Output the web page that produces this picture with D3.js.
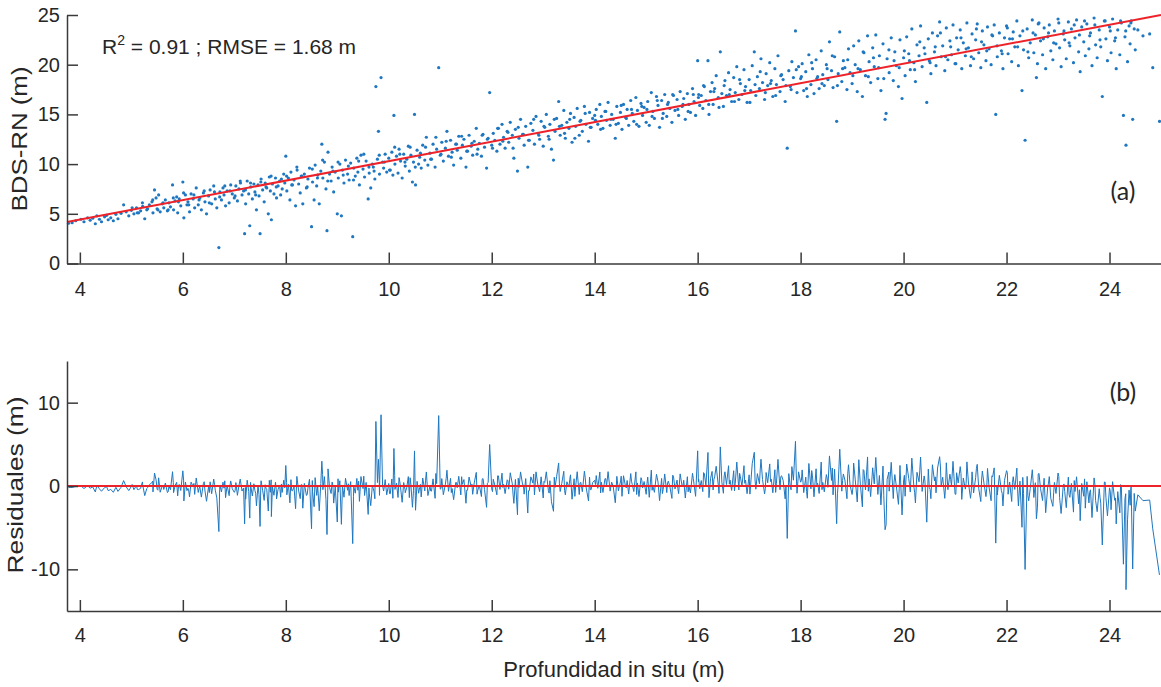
<!DOCTYPE html>
<html>
<head>
<meta charset="utf-8">
<script src="https://cdn.jsdelivr.net/npm/d3@7"></script>
<style>
body{margin:0;background:#fff;}
svg text{font-family:"Liberation Sans",Arial,sans-serif;fill:#262626;}
.axis path,.axis line{stroke:#3a3a3a;stroke-width:1.5;}
.axis text{font-size:20px;fill:#262626;}
</style>
</head>
<body>
<svg id="chart" width="1161" height="687"></svg>
<script>
// axis ticks
const xTicks=[4,6,8,10,12,14,16,18,20,22,24];
const yTicksTop=[0,5,10,15,20,25];
const yTicksBottom=[-10,0,10];

// fitted line (BDS-RN vs in situ)
const fitSlope=0.98, fitIntercept=0.5;

// [profundidad in situ, BDS-RN]
const band04=[[3.78,4.05],[3.85,4.1],[3.92,4.3],[4.02,4.45],[4.08,4.2],[4.15,4.6],[4.2,4.35],[4.25,4.55],[4.3,4.0],[4.33,4.8],[4.38,4.45],[4.42,4.2],[4.48,4.7],[4.52,4.85],[4.55,4.4],[4.6,4.6],[4.65,4.3],[4.7,4.95],[4.74,4.5],[4.8,5.05],[4.85,5.9],[4.9,5.2],[4.95,4.8],[5.0,5.35],[5.05,5.0],[5.1,5.6],[5.14,5.1],[5.18,5.3],[5.22,5.75],[5.26,4.5],[5.3,5.4],[5.35,5.9],[5.4,6.2],[5.42,5.1],[5.45,7.4],[5.48,6.6],[5.5,5.5],[5.53,6.9],[5.56,5.2],[5.6,6.0],[5.63,5.6],[5.66,6.4],[5.7,5.3],[5.73,6.1],[5.76,5.7],[5.8,7.9],[5.82,5.4],[5.85,6.3],[5.88,6.7],[5.9,5.1],[5.93,6.5],[5.96,5.8]];
const band06=[[6.0,8.2],[6.02,4.6],[6.05,6.9],[6.08,5.9],[6.1,6.2],[6.13,5.2],[6.16,7.0],[6.2,6.5],[6.23,5.6],[6.26,7.6],[6.3,5.9],[6.33,6.6],[6.36,5.4],[6.4,7.1],[6.43,6.2],[6.46,5.0],[6.5,6.8],[6.53,7.4],[6.56,6.0],[6.6,7.8],[6.63,6.5],[6.66,5.6],[6.7,1.6],[6.72,7.2],[6.75,6.4],[6.78,7.6],[6.8,6.9],[6.83,5.8],[6.86,7.3],[6.9,6.1],[6.93,7.9],[6.96,7.0],[7.0,6.6],[7.03,7.8],[7.06,6.3],[7.09,7.5],[7.12,8.1],[7.15,6.9],[7.18,7.3],[7.2,3.0],[7.22,6.0],[7.25,8.3],[7.28,7.0],[7.3,3.8],[7.32,7.7],[7.35,6.5],[7.38,8.0],[7.4,7.2],[7.43,5.4],[7.46,7.9],[7.48,6.8],[7.5,3.0],[7.52,8.5],[7.55,7.4],[7.58,6.2],[7.6,8.1],[7.63,7.6],[7.66,5.0],[7.68,8.7],[7.7,7.3],[7.72,4.4],[7.74,8.0],[7.77,7.0],[7.8,8.6],[7.82,6.6],[7.85,7.8],[7.88,8.3],[7.9,6.9],[7.93,7.5],[7.96,9.0],[7.98,8.1]];
const band08=[[8.0,10.8],[8.02,7.3],[8.05,8.6],[8.08,6.4],[8.1,9.2],[8.13,7.9],[8.16,8.4],[8.19,5.8],[8.22,9.4],[8.25,8.0],[8.28,7.1],[8.3,8.8],[8.33,6.0],[8.36,9.0],[8.4,7.6],[8.43,8.5],[8.46,9.6],[8.5,3.7],[8.52,8.2],[8.55,6.4],[8.57,9.9],[8.6,7.8],[8.62,8.9],[8.65,6.0],[8.68,9.3],[8.7,12.0],[8.72,8.6],[8.75,10.2],[8.78,7.5],[8.8,3.3],[8.82,11.2],[8.85,9.0],[8.88,8.3],[8.9,9.7],[8.93,7.2],[8.96,9.2],[9.0,5.0],[9.02,8.6],[9.05,10.0],[9.08,4.8],[9.1,9.4],[9.13,8.1],[9.16,10.4],[9.2,9.0],[9.23,8.4],[9.26,10.1],[9.3,2.7],[9.32,9.6],[9.35,8.8],[9.38,10.6],[9.4,9.2],[9.43,7.9],[9.46,10.9],[9.5,9.5],[9.53,8.7],[9.56,10.3],[9.6,6.5],[9.62,9.1],[9.65,7.6],[9.68,10.0],[9.7,9.7],[9.73,8.5],[9.75,17.8],[9.78,10.5],[9.8,13.3],[9.82,9.0],[9.85,18.7],[9.88,10.2],[9.9,9.6],[9.93,11.0],[9.96,9.2]];
const band10=[[10.0,10.6],[10.03,9.4],[10.06,11.2],[10.08,8.9],[10.1,14.9],[10.12,10.0],[10.15,10.8],[10.18,9.1],[10.2,11.5],[10.23,10.3],[10.26,8.6],[10.29,11.0],[10.32,9.8],[10.35,10.5],[10.38,11.8],[10.4,9.3],[10.43,10.9],[10.46,8.2],[10.48,10.2],[10.5,15.0],[10.52,7.9],[10.55,11.4],[10.58,10.0],[10.6,10.7],[10.63,9.6],[10.66,11.9],[10.7,10.4],[10.73,12.7],[10.76,9.9],[10.8,11.1],[10.83,10.5],[10.86,12.0],[10.9,9.7],[10.93,11.5],[10.97,19.7],[11.0,10.9],[11.03,12.2],[11.06,10.3],[11.1,11.6],[11.13,13.3],[11.16,10.8],[11.2,12.4],[11.23,11.2],[11.26,9.9],[11.3,12.0],[11.33,11.4],[11.36,12.8],[11.4,10.6],[11.43,11.9],[11.46,12.5],[11.5,9.7],[11.53,11.3],[11.56,12.9],[11.6,11.8],[11.63,10.9],[11.66,12.3],[11.7,13.6],[11.73,11.5],[11.76,12.1],[11.8,10.8],[11.83,13.0],[11.86,11.7],[11.9,9.6],[11.93,12.6],[11.96,17.2]];
const band12=[[12.0,11.9],[12.03,13.1],[12.06,12.4],[12.1,11.3],[12.13,13.6],[12.16,12.0],[12.2,14.0],[12.23,12.7],[12.26,11.6],[12.3,13.3],[12.33,12.2],[12.36,14.2],[12.4,12.9],[12.43,10.6],[12.46,13.5],[12.5,9.3],[12.53,12.6],[12.56,14.5],[12.6,13.0],[12.63,11.9],[12.66,13.8],[12.7,9.7],[12.73,12.4],[12.76,14.1],[12.8,13.4],[12.83,12.0],[12.86,14.8],[12.9,13.1],[12.93,12.5],[12.96,14.3],[13.0,11.8],[13.03,13.7],[13.06,15.0],[13.1,12.8],[13.13,14.0],[13.16,11.5],[13.2,10.4],[13.23,13.3],[13.26,14.6],[13.3,16.3],[13.33,12.9],[13.36,13.9],[13.4,15.4],[13.43,12.6],[13.46,14.2],[13.5,13.6],[13.53,15.1],[13.56,12.2],[13.6,14.7],[13.63,13.8],[13.66,15.6],[13.7,12.9],[13.73,14.4],[13.76,13.3],[13.8,15.8],[13.83,14.0],[13.88,12.3],[13.9,15.2],[13.93,13.7],[13.96,14.6]];
const band14=[[14.0,14.9],[14.03,15.5],[14.06,14.0],[14.1,16.0],[14.13,14.8],[14.16,13.6],[14.2,15.3],[14.23,14.4],[14.26,16.2],[14.3,13.9],[14.33,15.0],[14.36,14.5],[14.4,12.6],[14.43,15.8],[14.46,14.1],[14.5,15.2],[14.53,13.5],[14.56,16.0],[14.6,14.7],[14.63,15.5],[14.66,13.9],[14.7,16.4],[14.73,15.1],[14.76,14.3],[14.8,16.7],[14.83,15.4],[14.86,13.8],[14.9,16.1],[14.93,14.9],[14.96,15.7],[15.0,14.2],[15.03,16.3],[15.06,13.9],[15.1,17.2],[15.13,15.3],[15.16,14.6],[15.2,16.8],[15.23,15.9],[15.26,13.7],[15.3,16.4],[15.33,15.1],[15.36,17.0],[15.4,14.8],[15.43,16.2],[15.46,15.6],[15.5,14.2],[15.53,16.9],[15.56,15.4],[15.6,16.5],[15.63,14.9],[15.66,17.3],[15.7,15.8],[15.73,16.6],[15.76,14.5],[15.8,17.1],[15.83,16.0],[15.86,15.2],[15.9,17.6],[15.93,16.3],[15.96,14.9]];
const band16=[[16.0,20.4],[16.02,17.0],[16.04,15.9],[16.07,16.9],[16.1,15.6],[16.13,17.8],[16.16,16.4],[16.2,20.4],[16.22,15.0],[16.25,17.3],[16.28,18.2],[16.3,16.0],[16.33,17.6],[16.36,18.9],[16.4,16.7],[16.44,21.3],[16.47,17.1],[16.5,15.8],[16.53,18.4],[16.56,16.9],[16.6,19.2],[16.63,17.5],[16.66,16.3],[16.7,18.7],[16.73,17.2],[16.76,19.8],[16.8,16.5],[16.83,18.1],[16.86,17.0],[16.9,19.5],[16.93,17.8],[16.96,16.2],[17.0,18.5],[17.03,17.4],[17.06,19.9],[17.1,21.3],[17.13,16.9],[17.16,18.8],[17.2,17.6],[17.23,20.6],[17.26,18.2],[17.3,16.5],[17.33,19.1],[17.36,17.9],[17.4,20.2],[17.43,18.4],[17.46,16.8],[17.5,19.6],[17.53,18.0],[17.56,20.9],[17.6,17.3],[17.63,19.0],[17.66,18.5],[17.7,16.3],[17.74,11.6],[17.77,19.4],[17.8,17.8],[17.83,20.3],[17.86,18.7],[17.9,23.4],[17.93,17.2],[17.96,19.8]];
const band18=[[18.0,18.6],[18.03,20.1],[18.06,17.4],[18.1,19.3],[18.13,16.8],[18.16,21.0],[18.2,18.0],[18.23,19.6],[18.26,17.1],[18.3,20.5],[18.33,18.8],[18.36,17.6],[18.4,21.4],[18.43,19.0],[18.46,17.9],[18.5,20.0],[18.53,18.5],[18.56,22.3],[18.6,19.4],[18.63,17.7],[18.66,20.8],[18.7,14.3],[18.73,19.1],[18.76,23.3],[18.8,18.3],[18.83,20.4],[18.86,19.7],[18.9,17.5],[18.93,21.6],[18.96,19.2],[19.0,18.1],[19.03,21.9],[19.06,20.0],[19.1,17.3],[19.13,22.4],[19.16,19.5],[19.2,16.8],[19.23,21.2],[19.26,18.9],[19.3,22.9],[19.33,20.3],[19.36,18.2],[19.4,21.7],[19.43,19.8],[19.46,23.0],[19.5,18.6],[19.53,20.9],[19.56,17.4],[19.6,22.1],[19.64,14.5],[19.66,15.1],[19.68,20.6],[19.72,19.2],[19.76,22.7],[19.8,18.4],[19.83,21.3],[19.86,19.9],[19.9,17.8],[19.93,22.5],[19.97,16.6]];
const band20=[[20.0,20.7],[20.03,18.9],[20.06,22.8],[20.1,21.1],[20.13,19.5],[20.16,23.6],[20.2,20.2],[20.23,18.3],[20.26,22.0],[20.3,20.9],[20.33,23.9],[20.36,19.8],[20.4,21.7],[20.45,16.2],[20.48,22.6],[20.5,20.4],[20.53,19.1],[20.56,23.2],[20.6,21.3],[20.63,19.9],[20.66,22.9],[20.7,24.3],[20.73,20.8],[20.76,21.9],[20.8,19.4],[20.83,23.7],[20.86,20.5],[20.9,22.4],[20.93,21.0],[20.96,24.0],[21.0,20.1],[21.03,22.7],[21.06,21.5],[21.1,23.5],[21.13,19.6],[21.16,22.2],[21.2,20.9],[21.23,24.2],[21.26,21.7],[21.3,19.9],[21.33,23.1],[21.36,20.6],[21.4,22.5],[21.43,24.1],[21.46,21.2],[21.5,19.7],[21.53,23.4],[21.56,22.0],[21.6,20.4],[21.63,23.8],[21.66,21.6],[21.7,20.0],[21.73,22.9],[21.76,24.0],[21.79,15.0],[21.82,20.8],[21.86,23.2],[21.9,21.4],[21.93,19.6],[21.96,22.7]];
const band22=[[22.0,23.9],[22.03,21.1],[22.06,22.6],[22.1,20.3],[22.13,23.3],[22.16,21.8],[22.2,24.4],[22.23,19.9],[22.26,22.9],[22.3,17.4],[22.33,21.5],[22.36,12.4],[22.4,23.6],[22.43,20.7],[22.46,22.2],[22.5,24.5],[22.53,21.2],[22.56,23.0],[22.58,18.7],[22.6,20.1],[22.63,24.2],[22.66,22.4],[22.7,21.0],[22.73,23.7],[22.76,19.6],[22.8,22.8],[22.83,24.0],[22.86,21.4],[22.9,20.5],[22.93,23.4],[22.96,22.1],[23.0,24.6],[23.03,21.7],[23.06,19.8],[23.1,23.1],[23.13,22.5],[23.16,20.6],[23.2,24.3],[23.23,21.9],[23.26,23.6],[23.3,20.2],[23.33,22.7],[23.36,24.5],[23.4,21.3],[23.43,19.3],[23.46,23.8],[23.5,22.3],[23.53,20.9],[23.56,24.1],[23.6,21.6],[23.63,23.2],[23.66,19.9],[23.7,24.7],[23.73,22.0],[23.76,20.7],[23.8,23.5],[23.83,21.8],[23.86,16.8],[23.9,24.4],[23.93,22.6],[23.96,20.4]];
const band24=[[24.0,23.8],[24.03,21.2],[24.06,24.6],[24.1,22.4],[24.13,19.6],[24.16,23.5],[24.2,21.0],[24.23,24.2],[24.27,14.9],[24.3,22.8],[24.32,11.9],[24.35,20.3],[24.38,23.9],[24.4,22.1],[24.42,24.4],[24.45,14.5],[24.48,23.6],[24.5,21.5],[24.55,23.5],[24.65,22.9],[24.78,23.1],[24.84,19.7],[24.97,14.3]];

// denser points close to the fitted line
const core05=[[5.015,5.6],[5.115,5.1],[5.215,6.1],[5.315,5.5],[5.415,6.4],[5.515,5.4],[5.615,6.1],[5.715,5.4],[5.815,6.6],[5.915,6.2],[6.015,7.1],[6.115,5.9],[6.215,6.9],[6.315,6.4],[6.415,7.3],[6.515,6.1],[6.615,7.2],[6.715,6.7],[6.815,7.8],[6.915,7.3],[7.015,6.8],[7.115,8.3],[7.215,7.4],[7.315,8.1],[7.415,6.9],[7.515,8.2],[7.615,7.7],[7.715,8.8],[7.815,7.7],[7.915,8.5]];
const core08=[[8.015,8.8],[8.115,7.9],[8.215,9.7],[8.315,8.8],[8.415,7.7],[8.515,9.5],[8.615,8.6],[8.715,10.4],[8.815,8.3],[8.915,9.3],[9.015,10.2],[9.115,8.9],[9.215,9.8],[9.315,8.4],[9.415,10.3],[9.515,11.0],[9.615,9.7],[9.715,9.3],[9.815,10.9],[9.915,10.2],[10.015,9.4],[10.115,11.7],[10.215,11.0],[10.315,10.2],[10.415,11.7],[10.515,9.7],[10.615,11.1],[10.715,11.7],[10.815,10.5],[10.915,12.7],[11.015,11.0],[11.115,12.3],[11.215,10.7],[11.315,12.0],[11.415,12.8],[11.515,11.3],[11.615,12.1],[11.715,11.0],[11.815,12.9],[11.915,12.5],[12.015,11.6],[12.115,13.6],[12.215,12.3],[12.315,13.2],[12.415,11.6],[12.515,13.7],[12.615,13.0],[12.715,12.4],[12.815,14.5],[12.915,12.9],[13.015,13.8],[13.115,12.5],[13.215,14.5],[13.315,13.8],[13.415,13.1],[13.515,14.5],[13.615,12.6],[13.715,14.3],[13.815,15.1],[13.915,13.7],[14.015,14.4],[14.115,13.5],[14.215,15.3],[14.315,14.5],[14.415,14.0],[14.515,15.9],[14.615,14.6],[14.715,15.5],[14.815,14.0],[14.915,15.8],[15.015,15.5],[15.115,14.8],[15.215,16.4],[15.315,14.6],[15.415,16.0],[15.515,17.0],[15.615,15.5],[15.715,16.0],[15.815,15.3],[15.915,17.0]];
const core16=[[16.015,16.7],[16.115,17.9],[16.215,16.0],[16.315,17.3],[16.415,15.7],[16.515,17.9],[16.615,17.0],[16.715,16.3],[16.815,18.5],[16.915,17.4],[17.015,16.2],[17.115,18.0],[17.215,19.3],[17.315,17.2],[17.415,18.1],[17.515,16.9],[17.615,18.9],[17.715,17.9],[17.815,17.5],[17.915,19.5],[18.015,18.8],[18.115,17.6],[18.215,20.2],[18.315,18.6],[18.415,18.1],[18.515,19.6],[18.615,20.9],[18.715,17.9],[18.815,19.6],[18.915,20.5],[19.015,18.9],[19.115,19.6],[19.215,21.3],[19.315,18.8],[19.415,20.7],[19.515,19.7],[19.615,18.6],[19.715,21.5],[19.815,20.4],[19.915,19.7],[20.015,21.4],[20.115,20.4],[20.215,19.5],[20.315,22.3],[20.415,21.1],[20.515,20.2],[20.615,21.8],[20.715,23.2],[20.815,20.8],[20.915,21.8],[21.015,20.1],[21.115,22.7],[21.215,21.6],[21.315,20.8],[21.415,23.6],[21.515,22.3],[21.615,21.4],[21.715,23.0],[21.815,21.9],[21.915,21.1],[22.015,23.7],[22.115,22.6],[22.215,21.8],[22.315,23.4],[22.415,21.3],[22.515,23.2],[22.615,24.1],[22.715,22.6],[22.815,23.2],[22.915,22.2],[23.015,24.2],[23.115,23.4],[23.215,22.2],[23.315,24.0],[23.415,23.0],[23.515,24.4],[23.615,22.9],[23.715,24.0],[23.815,22.5],[23.915,24.4],[24.015,23.4],[24.115,22.7],[24.215,24.4],[24.315,23.4],[24.415,24.2]];

const samples=[].concat(band04,band06,band08,band10,band12,band14,band16,band18,band20,band22,band24,core05,core08,core16)
  .map(([insitu,bds])=>({insitu,bds}))
  .sort((a,b)=>a.insitu-b.insitu);
samples.forEach(d=>{d.resid=d.bds-(fitSlope*d.insitu+fitIntercept);});

const svg=d3.select("#chart");
const blue="#1f77c0", red="#ee2229";
const fmt=d=>String(d);

const x=d3.scaleLinear().domain([3.75,25]).range([67,1161]);
const yTop=d3.scaleLinear().domain([0,25]).range([263.5,15]);
const yBot=d3.scaleLinear().domain([-15,15]).range([611,361]);

// ---- panel (a)
const gTop=svg.append("g");
gTop.append("g").selectAll("circle")
  .data(samples)
  .join("circle")
  .attr("cx",d=>x(d.insitu))
  .attr("cy",d=>yTop(d.bds))
  .attr("r",1.6)
  .attr("fill",blue);

const fitX=x.domain();
gTop.append("path")
  .datum(fitX)
  .attr("fill","none")
  .attr("stroke",red)
  .attr("stroke-width",2)
  .attr("d",d3.line().x(v=>x(v)).y(v=>yTop(fitSlope*v+fitIntercept)));

gTop.append("g").attr("class","axis")
  .attr("transform","translate(0,263.5)")
  .call(d3.axisBottom(x).tickValues(xTicks).tickFormat(fmt).tickSize(-11).tickSizeOuter(0).tickPadding(18))
  .call(g=>g.selectAll("text").attr("dy","0.71em"));
gTop.append("g").attr("class","axis")
  .attr("transform","translate(67,0)")
  .call(d3.axisLeft(yTop).tickValues(yTicksTop).tickFormat(fmt).tickSize(-11).tickSizeOuter(0).tickPadding(7));

const stats=gTop.append("text").attr("x",102).attr("y",54).attr("font-size",21);
stats.append("tspan").text("R");
stats.append("tspan").attr("font-size",14).attr("dy",-9).text("2");
stats.append("tspan").attr("dy",9).text(" = 0.91 ; RMSE = 1.68 m");

gTop.append("text")
  .attr("transform","translate(27,139) rotate(-90)")
  .attr("text-anchor","middle")
  .attr("font-size",22)
  .attr("textLength",145).attr("lengthAdjust","spacingAndGlyphs")
  .text("BDS-RN (m)");

gTop.append("text")
  .attr("x",1123).attr("y",200)
  .attr("text-anchor","middle")
  .style("font-family","Lato, 'Open Sans', sans-serif")
  .attr("font-size",25)
  .text("(a)");

// ---- panel (b)
const gBot=svg.append("g");
gBot.append("path")
  .datum(samples)
  .attr("fill","none")
  .attr("stroke",blue)
  .attr("stroke-width",1)
  .attr("d",d3.line().x(d=>x(d.insitu)).y(d=>yBot(d.resid)));

gBot.append("path")
  .datum(fitX)
  .attr("fill","none")
  .attr("stroke",red)
  .attr("stroke-width",2)
  .attr("d",d3.line().x(v=>x(v)).y(()=>yBot(0)));

gBot.append("g").attr("class","axis")
  .attr("transform","translate(0,611)")
  .call(d3.axisBottom(x).tickValues(xTicks).tickFormat(fmt).tickSize(-11).tickSizeOuter(0).tickPadding(17))
  .call(g=>g.selectAll("text").attr("dy","0.71em"));
gBot.append("g").attr("class","axis")
  .attr("transform","translate(67,0)")
  .call(d3.axisLeft(yBot).tickValues(yTicksBottom).tickFormat(fmt).tickSize(-11).tickSizeOuter(0).tickPadding(7));

gBot.append("text")
  .attr("transform","translate(23,485) rotate(-90)")
  .attr("text-anchor","middle")
  .attr("font-size",22)
  .attr("textLength",177).attr("lengthAdjust","spacingAndGlyphs")
  .text("Residuales (m)");

gBot.append("text")
  .attr("x",1123).attr("y",401)
  .attr("text-anchor","middle")
  .style("font-family","Lato, 'Open Sans', sans-serif")
  .attr("font-size",25)
  .text("(b)");

svg.append("text")
  .attr("x",614).attr("y",677)
  .attr("text-anchor","middle")
  .attr("font-size",22)
  .text("Profundidad in situ (m)");
</script>
</body>
</html>
